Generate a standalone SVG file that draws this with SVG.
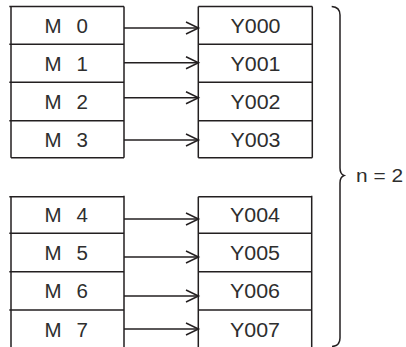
<svg xmlns="http://www.w3.org/2000/svg" width="406" height="347" viewBox="0 0 406 347">
<style>
.ln{stroke:#231f20;stroke-width:1.5;fill:none}
.t{font-family:"Liberation Sans",Arial,sans-serif;font-size:20.5px;fill:#2e2e2e}
.y{text-anchor:middle}
.c{stroke:#231f20;stroke-width:1.5;fill:none}
</style>
<defs>
<marker id="ah" markerUnits="userSpaceOnUse" markerWidth="16" markerHeight="16" viewBox="-14 -8 16 16" refX="0" refY="0" orient="auto">
<polyline points="-12.5,-6 0,0 -12.5,6" fill="none" stroke="#231f20" stroke-width="1.5"/>
</marker>
</defs>
<g id="src1">
<path class="ln" d="M9.3,6.5H124M9.3,44.3H124M9.3,82.3H124M9.3,120.7H124M11,157.7H124M11,6.5V157.7M124,6.5V157.7"/>
<text class="t" x="44.5" y="33.3">M <tspan x="76.5">0</tspan></text>
<text class="t" x="44.5" y="71">M <tspan x="76.5">1</tspan></text>
<text class="t" x="44.5" y="109">M <tspan x="76.5">2</tspan></text>
<text class="t" x="44.5" y="146.7">M <tspan x="76.5">3</tspan></text>
</g>
<g id="dst1">
<path class="ln" d="M198.3,6.5H312.3M198.3,44.3H312.3M198.3,82.3H312.3M198.3,120.7H312.3M198.3,157.7H312.3M198.3,6.5V157.7M312.3,6.5V157.7"/>
<text class="t y" x="255.5" y="33.3" textLength="50" lengthAdjust="spacingAndGlyphs">Y000</text>
<text class="t y" x="255.5" y="71" textLength="50" lengthAdjust="spacingAndGlyphs">Y001</text>
<text class="t y" x="255.5" y="109" textLength="50" lengthAdjust="spacingAndGlyphs">Y002</text>
<text class="t y" x="255.5" y="146.7" textLength="50" lengthAdjust="spacingAndGlyphs">Y003</text>
</g>
<g id="src2">
<path class="ln" d="M9.3,196.7H124M9.3,233.3H124M9.3,271.7H124M9.3,310H124M11,196.7V347M124,195.7V347"/>
<text class="t" x="44.5" y="221.7">M <tspan x="76.5">4</tspan></text>
<text class="t" x="44.5" y="260">M <tspan x="76.5">5</tspan></text>
<text class="t" x="44.5" y="298.3">M <tspan x="76.5">6</tspan></text>
<text class="t" x="44.5" y="336.7">M <tspan x="76.5">7</tspan></text>
</g>
<g id="dst2">
<path class="ln" d="M198.3,196.7H311.7M198.3,233.3H311.7M198.3,271.7H311.7M198.3,310H311.7M198.3,196.7V347M311.7,195.7V347"/>
<text class="t y" x="255" y="221.7" textLength="50" lengthAdjust="spacingAndGlyphs">Y004</text>
<text class="t y" x="255" y="260" textLength="50" lengthAdjust="spacingAndGlyphs">Y005</text>
<text class="t y" x="255" y="298.3" textLength="50" lengthAdjust="spacingAndGlyphs">Y006</text>
<text class="t y" x="255" y="336.7" textLength="50" lengthAdjust="spacingAndGlyphs">Y007</text>
</g>
<g id="brace">
<path class="ln" d="M331.7,6.5Q340,7 340,15L340,168Q340,174 344,175.5Q340,177 340,183L340,338Q340,346 332,346.5"/>
<text class="t" x="356" y="181.7" style="font-size:19px" textLength="47" lengthAdjust="spacingAndGlyphs">n = 2</text>
</g>
<g id="connectors">
<path class="c" marker-end="url(#ah)" d="M124,28H198.5"/>
<path class="c" marker-end="url(#ah)" d="M124,62.7H198.5"/>
<path class="c" marker-end="url(#ah)" d="M124,97.7H198.5"/>
<path class="c" marker-end="url(#ah)" d="M124,140H198.5"/>
<path class="c" marker-end="url(#ah)" d="M124,219H198.5"/>
<path class="c" marker-end="url(#ah)" d="M124,257H198.5"/>
<path class="c" marker-end="url(#ah)" d="M124,296H198.5"/>
<path class="c" marker-end="url(#ah)" d="M124,329H198.5"/>
</g>
</svg>
